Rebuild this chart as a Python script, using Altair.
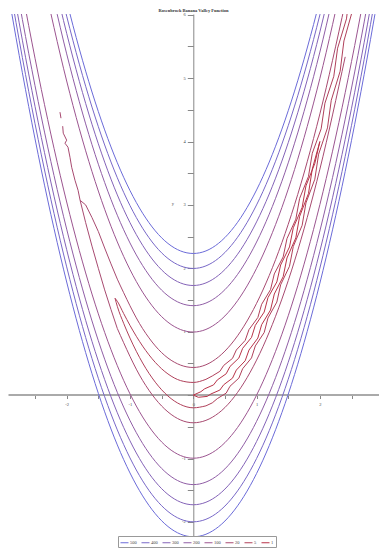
import altair as alt
import pandas as pd

TITLE = "Rosenbrock Banana Valley Function"
LEVELS = ["500", "400", "300", "200", "100", "20", "5", "1"]
COLORS = ["#6b6bd9", "#7868c8", "#8463b8", "#905ea6", "#9c5590", "#a84a70", "#b0405a", "#b83348"]

X_TICKS = [-2.5, -2, -1.5, -1, -0.5, 0, 0.5, 1, 1.5, 2, 2.5]
Y_TICKS = [-2, -1.5, -1, -0.5, 0, 0.5, 1, 1.5, 2, 2.5, 3, 3.5, 4, 4.5, 5, 5.5, 6]

# ---- smooth contour branches ----
X_GRID = [-2.87, -2.8, -2.4, -2.0, -1.6, -1.2, -0.8, -0.4, 0.0, 0.4, 0.8, 1.2, 1.6, 2.0, 2.4, 2.8, 2.87]
Y500U = [None, None, 7.97, 6.216, 4.781, 3.665, 2.869, 2.392, 2.234, 2.395, 2.876, 3.676, 4.795, 6.234, 7.992, None, None]
Y500L = [6.035, 5.637, 3.550, 1.784, 0.339, -0.785, -1.589, -2.072, -2.234, -2.075, -1.596, -0.796, 0.325, 1.766, 3.528, 5.611, 6.009]
Y400U = [None, None, 7.731, 5.977, 4.543, 3.428, 2.632, 2.155, 1.998, 2.159, 2.640, 3.440, 4.559, 5.998, 7.755, None, None]
Y400L = [6.275, 5.876, 3.789, 2.023, 0.577, -0.548, -1.352, -1.835, -1.998, -1.839, -1.360, -0.560, 0.561, 2.003, 3.765, 5.848, 6.246]
Y300U = [None, None, 7.458, 5.706, 4.272, 3.158, 2.363, 1.886, 1.729, 1.891, 2.372, 3.172, 4.291, 5.729, 7.486, None, None]
Y300L = [6.549, 6.150, 4.062, 2.294, 0.848, -0.278, -1.083, -1.566, -1.729, -1.571, -1.092, -0.292, 0.829, 2.271, 4.034, 6.117, 6.515]
Y200U = [None, None, 7.133, 5.382, 3.950, 2.837, 2.043, 1.567, 1.411, 1.573, 2.054, 2.854, 3.973, 5.411, 7.167, None, None]
Y200L = [6.877, 6.478, 4.387, 2.618, 1.170, 0.043, -0.763, -1.247, -1.411, -1.253, -0.774, 0.026, 1.147, 2.589, 4.353, 6.437, 6.835]
Y100U = [None, None, 6.700, 4.954, 3.526, 2.416, 1.624, 1.150, 0.995, 1.158, 1.640, 2.440, 3.558, 4.995, 6.750, None, None]
Y100L = [7.315, 6.915, 4.820, 3.046, 1.594, 0.465, -0.344, -0.830, -0.995, -0.838, -0.360, 0.440, 1.562, 3.005, 4.770, 6.856, 7.255]

X20 = [-1.2, -0.8, -0.4, 0.0, 0.4, 0.8, 1.2, 1.6, 2.0, 2.4]
Y20U = [1.829, 1.049, 0.585, 0.436, 0.603, 1.087, 1.887, 3.003, 4.436, 6.185]
Y20L = [1.051, 0.231, -0.265, -0.436, -0.283, 0.193, 0.993, 2.117, 3.564, 5.335]

X5 = [-1.236, -1.2, -1.1, -1.0, -0.8, -0.6, -0.4, -0.2, 0.0, 0.2]
Y5U = [1.528, 1.48, 1.287, 1.1, 0.773, 0.516, 0.334, 0.229, 0.2, 0.249]
Y5L = [1.528, 1.40, 1.133, 0.9, 0.507, 0.204, -0.014, -0.149, -0.2, -0.169]

# ---- jagged (poorly resolved) pieces in the narrow valley ----
J20U_X = [-1.2, -1.3, -1.4, -1.5, -1.6, -1.7, -1.788]
J20U_Y = [1.829, 2.07, 2.32, 2.58, 2.80, 3.00, 3.073]
J20L_X = [-1.2, -1.3, -1.4, -1.5, -1.6, -1.7, -1.788, -1.82, -1.869, -1.921, -1.948, -1.979, -2.027, -2.0, -2.054, -2.063]
J20L_Y = [1.051, 1.35, 1.66, 2.0, 2.35, 2.72, 3.073, 3.231, 3.389, 3.594, 3.752, 3.910, 3.973, 4.021, 4.131, 4.242]
J20D_X = [-2.106, -2.09]
J20D_Y = [4.463, 4.368]

J5U_X = [0.2, 0.3, 0.42, 0.48, 0.62, 0.68, 0.82, 0.88, 1.02, 1.08, 1.22, 1.28, 1.42, 1.48, 1.62, 1.68, 1.82, 1.88, 2.02, 2.08, 2.22, 2.28, 2.42, 2.48]
J5U_Y = [0.249, 0.302, 0.375, 0.468, 0.580, 0.712, 0.863, 1.033, 1.224, 1.433, 1.663, 1.912, 2.180, 2.468, 2.775, 3.102, 3.449, 3.815, 4.2, 4.605, 5.029, 5.472, 5.934, 6.416]
J5L_X = [0.2, 0.3, 0.38, 0.52, 0.58, 0.72, 0.78, 0.92, 0.98, 1.12, 1.18, 1.32, 1.38, 1.52, 1.58, 1.72, 1.78, 1.92, 1.98, 2.12, 2.18, 2.32, 2.38, 2.52]
J5L_Y = [-0.169, -0.122, -0.055, 0.032, 0.140, 0.268, 0.417, 0.587, 0.776, 0.987, 1.217, 1.468, 1.740, 2.032, 2.345, 2.678, 3.031, 3.405, 3.8, 4.215, 4.651, 5.108, 5.586, 6.084]

J1U_X = [0.0, 0.12, 0.18, 0.32, 0.38, 0.52, 0.58, 0.72, 0.78, 0.92, 0.98, 1.12, 1.18, 1.32, 1.38, 1.52, 1.58, 1.72, 1.78, 1.92, 2.0]
J1U_Y = [0.0, 0.054, 0.10, 0.161, 0.24, 0.337, 0.452, 0.585, 0.738, 0.910, 1.1, 1.310, 1.538, 1.785, 2.052, 2.337, 2.64, 2.961, 3.30, 3.654, 4.0]
J1L_X = [0.0, 0.08, 0.22, 0.28, 0.42, 0.48, 0.62, 0.68, 0.82, 0.88, 1.02, 1.08, 1.22, 1.28, 1.42, 1.48, 1.62, 1.68, 1.82, 1.88, 2.0]
J1L_Y = [0.0, -0.034, -0.02, 0.019, 0.08, 0.163, 0.268, 0.395, 0.542, 0.711, 0.9, 1.111, 1.342, 1.595, 1.868, 2.163, 2.48, 2.819, 3.18, 3.566, 4.0]

SMOOTH = [
    ("500", "500U", X_GRID, Y500U), ("500", "500L", X_GRID, Y500L),
    ("400", "400U", X_GRID, Y400U), ("400", "400L", X_GRID, Y400L),
    ("300", "300U", X_GRID, Y300U), ("300", "300L", X_GRID, Y300L),
    ("200", "200U", X_GRID, Y200U), ("200", "200L", X_GRID, Y200L),
    ("100", "100U", X_GRID, Y100U), ("100", "100L", X_GRID, Y100L),
    ("20", "20U", X20, Y20U), ("20", "20L", X20, Y20L),
    ("5", "5U", X5, Y5U), ("5", "5L", X5, Y5L),
]
JAGGED = [
    ("20", "j20U", J20U_X, J20U_Y), ("20", "j20L", J20L_X, J20L_Y), ("20", "j20D", J20D_X, J20D_Y),
    ("5", "j5U", J5U_X, J5U_Y), ("5", "j5L", J5L_X, J5L_Y),
    ("1", "j1U", J1U_X, J1U_Y), ("1", "j1L", J1L_X, J1L_Y),
]


def frame(curves):
    rows = []
    for level, name, xs, ys in curves:
        for i, (xv, yv) in enumerate(zip(xs, ys)):
            if yv is None:
                continue
            rows.append({"x": xv, "y": yv, "level": level, "curve": name, "i": i})
    return pd.DataFrame(rows)


XDOM = [-2.927, 2.934]
YDOM = [-2.411, 6.011]
SERIF = "Liberation Serif"

X_ENC = alt.X("x:Q", scale=alt.Scale(domain=XDOM, nice=False, zero=False),
              axis=alt.Axis(orient="bottom", offset=-153.5, values=X_TICKS,
                            labelExpr="datum.value % 1 == 0 ? '' + datum.value : ''",
                            tickSize=4, tickColor="#888", domainColor="#aaa", domainWidth=2,
                            labelFont=SERIF, labelFontSize=4.5, labelColor="#444",
                            labelPadding=3, grid=False, title=None,
                            labelFlush=False, labelOverlap=False))
Y_ENC = alt.Y("y:Q", scale=alt.Scale(domain=YDOM, nice=False, zero=False),
              axis=alt.Axis(orient="left", offset=-185.3, values=Y_TICKS,
                            labelExpr="datum.value % 1 == 0 && datum.value != 0 ? '' + datum.value : ''",
                            tickSize=6, tickColor="#888", domainColor="#888", domainWidth=1,
                            labelFont=SERIF, labelFontSize=4.5, labelColor="#444",
                            labelPadding=2, grid=False, title="y", titleAngle=0,
                            titleX=-21, titleY=191, titleFont=SERIF, titleFontSize=4.5,
                            titleFontWeight="normal", titleColor="#444",
                            labelFlush=False, labelOverlap=False))
C_ENC = alt.Color("level:N", scale=alt.Scale(domain=LEVELS, range=COLORS), sort=LEVELS,
                  legend=alt.Legend(orient="none", legendX=110, legendY=522,
                                    direction="horizontal", columns=8,
                                    symbolType="stroke", symbolSize=64, symbolStrokeWidth=1,
                                    labelFont=SERIF, labelFontSize=4.5, labelColor="#444",
                                    title=None, padding=2, strokeColor="#999",
                                    fillColor="white", columnPadding=2, labelOffset=1))

smooth = alt.Chart(frame(SMOOTH)).mark_line(strokeWidth=1, interpolate="monotone", clip=True).encode(
    x=X_ENC, y=Y_ENC, color=C_ENC, detail="curve:N", order="i:Q")
jagged = alt.Chart(frame(JAGGED)).mark_line(strokeWidth=1, interpolate="linear", clip=True).encode(
    x=X_ENC, y=Y_ENC, color=C_ENC, detail="curve:N", order="i:Q")

chart = alt.layer(smooth, jagged).properties(
    width=371, height=534,
    title=alt.TitleParams(TITLE, fontSize=4.5, font=SERIF, fontWeight="bold", color="#333",
                          offset=-1),
    autosize=alt.AutoSizeParams(type="none"),
    padding={"left": 0, "top": 6, "right": 0, "bottom": 0},
).configure_view(stroke=None)

chart.save("out.html", embed_options={"renderer": "svg", "actions": False})
